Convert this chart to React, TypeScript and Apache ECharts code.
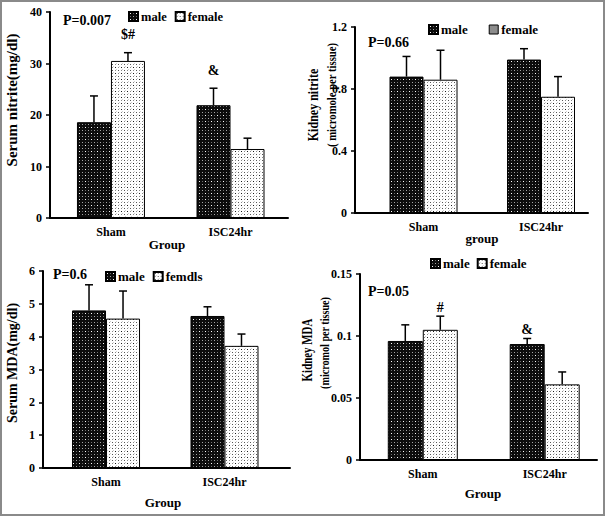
import React, { useEffect, useRef } from 'react';
import * as echarts from 'echarts';

// ---------- data ----------
const categories = ['Sham', 'ISC24hr'];

const serumNitriteMale = [18.6, 21.9];
const serumNitriteMaleSD = [5.1, 3.3];
const serumNitriteFemale = [30.5, 13.4];
const serumNitriteFemaleSD = [1.6, 2.1];
const serumNitriteMaleMarks = ['', '&'];
const serumNitriteFemaleMarks = ['$#', ''];

const kidneyNitriteMale = [0.88, 0.99];
const kidneyNitriteMaleSD = [0.13, 0.07];
const kidneyNitriteFemale = [0.86, 0.75];
const kidneyNitriteFemaleSD = [0.19, 0.13];

const serumMDAMale = [4.8, 4.63];
const serumMDAMaleSD = [0.78, 0.28];
const serumMDAFemale = [4.55, 3.72];
const serumMDAFemaleSD = [0.84, 0.36];

const kidneyMDAMale = [0.096, 0.0935];
const kidneyMDAMaleSD = [0.013, 0.0045];
const kidneyMDAFemale = [0.105, 0.061];
const kidneyMDAFemaleSD = [0.011, 0.01];
const kidneyMDAMaleMarks = ['', '&'];
const kidneyMDAFemaleMarks = ['#', ''];

const pValues = ['P=0.007', 'P=0.66', 'P=0.6', 'P=0.05'];
const seriesNames = ['male', 'female'];
const serumMDAFemaleName = 'femdls';

const FONT = '"Liberation Serif", "Times New Roman", serif';

function makePattern(bg: string, dots: [number, number, string][]) {
  const c = document.createElement('canvas');
  c.width = 6;
  c.height = 6;
  const ctx = c.getContext('2d')!;
  ctx.fillStyle = bg;
  ctx.fillRect(0, 0, 6, 6);
  dots.forEach(([x, y, col]) => {
    ctx.fillStyle = col;
    ctx.fillRect(x, y, 1, 1);
  });
  return { image: c, repeat: 'repeat', imageWidth: 6, imageHeight: 6 } as any;
}

export default function App() {
  const ref = useRef<HTMLDivElement>(null);

  useEffect(() => {
    if (!ref.current) return;
    const chart = echarts.init(ref.current, undefined, { renderer: 'svg' });

    const malePat = makePattern('#0c0c0c', [
      [1, 1, '#ffffff'], [4, 1, '#6a6a6a'], [1, 4, '#6a6a6a'], [4, 4, '#a8a8a8'],
    ]);
    const femalePat = makePattern('#ffffff', [
      [1, 1, '#1a1a1a'], [4, 1, '#8a8a8a'], [1, 4, '#8a8a8a'], [4, 4, '#555555'], [2, 3, '#d0d0d0'], [5, 0, '#d0d0d0'],
    ]);

    const panels = [
      {
        grid: { left: 50, top: 12, width: 238, height: 206 }, xMin: -0.51, xMax: 1.481,
        yMax: 40, interval: 10,
        male: serumNitriteMale, maleSD: serumNitriteMaleSD, female: serumNitriteFemale, femaleSD: serumNitriteFemaleSD,
        maleMarks: serumNitriteMaleMarks, femaleMarks: serumNitriteFemaleMarks, femaleName: seriesNames[1],
        barW: 34, markGap: 18, femaleIcon: null as string | null,
        legend: { left: 128, top: 10, itemGap: 8, size: 12.5 },
        p: { x: 63, y: 20 },
        xTitle: { text: 'Group', x: 167, y: 244 },
        yTitles: [{ text: 'Serum nitrite(mg/dl)', x: 12, y: 100, size: 15, sx: 1 }],
      },
      {
        grid: { left: 355, top: 27, width: 233, height: 186 }, xMin: -0.583, xMax: 1.4,
        yMax: 1.2, interval: 0.4,
        male: kidneyNitriteMale, maleSD: kidneyNitriteMaleSD, female: kidneyNitriteFemale, femaleSD: kidneyNitriteFemaleSD,
        maleMarks: ['', ''], femaleMarks: ['', ''], femaleName: seriesNames[1],
        barW: 34, markGap: 10, femaleIcon: '#8c8c8c',
        legend: { left: 428, top: 23, itemGap: 21, size: 13 },
        p: { x: 368, y: 42 },
        xTitle: { text: 'group', x: 482, y: 238 },
        yTitles: [
          { text: 'Kidney nitrite', x: 313, y: 105, size: 14.5, sx: 0.83 },
          { text: '( micromole per tissue)', x: 332, y: 95, size: 13, sx: 0.82 },
        ],
      },
      {
        grid: { left: 43, top: 271, width: 247, height: 197 }, xMin: -0.532, xMax: 1.553,
        yMax: 6, interval: 1,
        male: serumMDAMale, maleSD: serumMDAMaleSD, female: serumMDAFemale, femaleSD: serumMDAFemaleSD,
        maleMarks: ['', ''], femaleMarks: ['', ''], femaleName: serumMDAFemaleName,
        barW: 34, markGap: 10, femaleIcon: null,
        legend: { left: 105, top: 270, itemGap: 8, size: 13 },
        p: { x: 53, y: 274 },
        xTitle: { text: 'Group', x: 163, y: 502 },
        yTitles: [{ text: 'Serum MDA(mg/dl)', x: 12, y: 363, size: 14, sx: 1 }],
      },
      {
        grid: { left: 360, top: 274, width: 237, height: 186 }, xMin: -0.515, xMax: 1.429,
        yMax: 0.15, interval: 0.05,
        male: kidneyMDAMale, maleSD: kidneyMDAMaleSD, female: kidneyMDAFemale, femaleSD: kidneyMDAFemaleSD,
        maleMarks: kidneyMDAMaleMarks, femaleMarks: kidneyMDAFemaleMarks, femaleName: seriesNames[1],
        barW: 35, markGap: 9, femaleIcon: null,
        legend: { left: 430, top: 257, itemGap: 7, size: 13 },
        p: { x: 368, y: 291 },
        xTitle: { text: 'Group', x: 483, y: 493 },
        yTitles: [
          { text: 'Kidney MDA', x: 308, y: 350, size: 14, sx: 0.78 },
          { text: '(micromol per tissue)', x: 325, y: 343, size: 13, sx: 0.78 },
        ],
      },
    ];

    const errorSeries = (gi: number, means: number[], sds: number[], marks: string[], sign: number, barW: number, gap: number) => ({
      type: 'custom',
      xAxisIndex: gi,
      yAxisIndex: gi,
      z: 5,
      silent: true,
      data: means.map((m, i) => [i, m, sds[i]]),
      encode: { x: 0, y: 1 },
      renderItem: (params: any, api: any) => {
        const x = api.value(0);
        const m = api.value(1);
        const sd = api.value(2);
        const base = api.coord([x, m]);
        const top = api.coord([x, m + sd]);
        const px = base[0] + (sign * barW) / 2;
        const children: any[] = [
          { type: 'line', shape: { x1: px, y1: base[1], x2: px, y2: top[1] }, style: { stroke: '#000', lineWidth: 1.5 } },
          { type: 'line', shape: { x1: px - 4, y1: top[1], x2: px + 4, y2: top[1] }, style: { stroke: '#000', lineWidth: 1.5 } },
        ];
        const mark = marks[params.dataIndex];
        if (mark) {
          children.push({
            type: 'text', x: px, y: top[1] - gap,
            style: { text: mark, font: `bold 14px ${FONT}`, fill: '#000', align: 'center', verticalAlign: 'middle' },
          });
        }
        return { type: 'group', children };
      },
    });

    const grid: any[] = [];
    const xAxis: any[] = [];
    const yAxis: any[] = [];
    const legend: any[] = [];
    const series: any[] = [];
    const graphic: any[] = [
      { type: 'rect', shape: { x: 1, y: 1, width: 603, height: 514 }, style: { fill: 'none', stroke: '#8a8a8a', lineWidth: 2 }, z: 100 },
    ];

    panels.forEach((p, gi) => {
      grid.push({ ...p.grid, containLabel: false, outerBoundsMode: 'none' });
      xAxis.push({
        type: 'value', gridIndex: gi, min: p.xMin, max: p.xMax,
        splitLine: { show: false },
        axisTick: { show: false },
        axisLine: { show: true, onZero: false, lineStyle: { color: '#000', width: 2 } },
        axisLabel: {
          customValues: [0, 1],
          formatter: (v: number) => categories[Math.round(v)] ?? '',
          margin: 8, color: '#000', fontFamily: FONT, fontWeight: 'bold', fontSize: 12,
        },
      });
      yAxis.push({
        type: 'value', gridIndex: gi, min: 0, max: p.yMax, interval: p.interval,
        splitLine: { show: false },
        axisLine: { show: true, onZero: false, lineStyle: { color: '#000', width: 2 } },
        axisTick: { show: true, inside: false, length: 4, lineStyle: { color: '#000', width: 1.5 } },
        axisLabel: { margin: 8, color: '#000', fontFamily: FONT, fontWeight: 'bold', fontSize: 12 },
      });
      const femaleLegendItem: any = p.femaleIcon
        ? { name: p.femaleName, itemStyle: { color: p.femaleIcon, borderColor: '#000', borderWidth: 1 } }
        : { name: p.femaleName };
      legend.push({
        left: p.legend.left, top: p.legend.top, padding: 0, itemGap: p.legend.itemGap,
        itemWidth: 9, itemHeight: 9, icon: 'rect', orient: 'horizontal',
        data: [{ name: seriesNames[0] }, femaleLegendItem],
        textStyle: { color: '#000', fontFamily: FONT, fontWeight: 'bold', fontSize: p.legend.size, padding: [0, 0, 0, -2] },
        selectedMode: false,
      });
      series.push({
        type: 'bar', name: seriesNames[0], xAxisIndex: gi, yAxisIndex: gi,
        data: p.male.map((v, i) => [i, v]), barWidth: p.barW, barGap: '0%',
        itemStyle: { color: malePat, borderColor: '#000', borderWidth: 1 },
        emphasis: { disabled: true }, silent: true,
      });
      series.push({
        type: 'bar', name: p.femaleName, xAxisIndex: gi, yAxisIndex: gi,
        data: p.female.map((v, i) => [i, v]), barWidth: p.barW, barGap: '0%',
        itemStyle: { color: femalePat, borderColor: '#000', borderWidth: 1 },
        emphasis: { disabled: true }, silent: true,
      });
      series.push(errorSeries(gi, p.male, p.maleSD, p.maleMarks, -1, p.barW, p.markGap));
      series.push(errorSeries(gi, p.female, p.femaleSD, p.femaleMarks, 1, p.barW, p.markGap));

      graphic.push({
        type: 'text', x: p.p.x, y: p.p.y,
        style: { text: pValues[gi], font: `bold 14px ${FONT}`, fill: '#000', align: 'left', verticalAlign: 'middle' },
      });
      graphic.push({
        type: 'text', x: p.xTitle.x, y: p.xTitle.y,
        style: { text: p.xTitle.text, font: `bold 13px ${FONT}`, fill: '#000', align: 'center', verticalAlign: 'middle' },
      });
      p.yTitles.forEach((t) => {
        graphic.push({
          type: 'text', x: t.x, y: t.y, rotation: Math.PI / 2, scaleX: t.sx, scaleY: 1,
          style: { text: t.text, font: `bold ${t.size}px ${FONT}`, fill: '#000', align: 'center', verticalAlign: 'middle' },
        });
      });
    });

    chart.setOption({
      animation: false,
      backgroundColor: '#ffffff',
      grid, xAxis, yAxis, legend, series, graphic,
    });

    return () => chart.dispose();
  }, []);

  return (
    <div
      ref={ref}
      style={{ position: 'fixed', left: 0, top: 0, width: 605, height: 516, background: '#fff' }}
    />
  );
}
